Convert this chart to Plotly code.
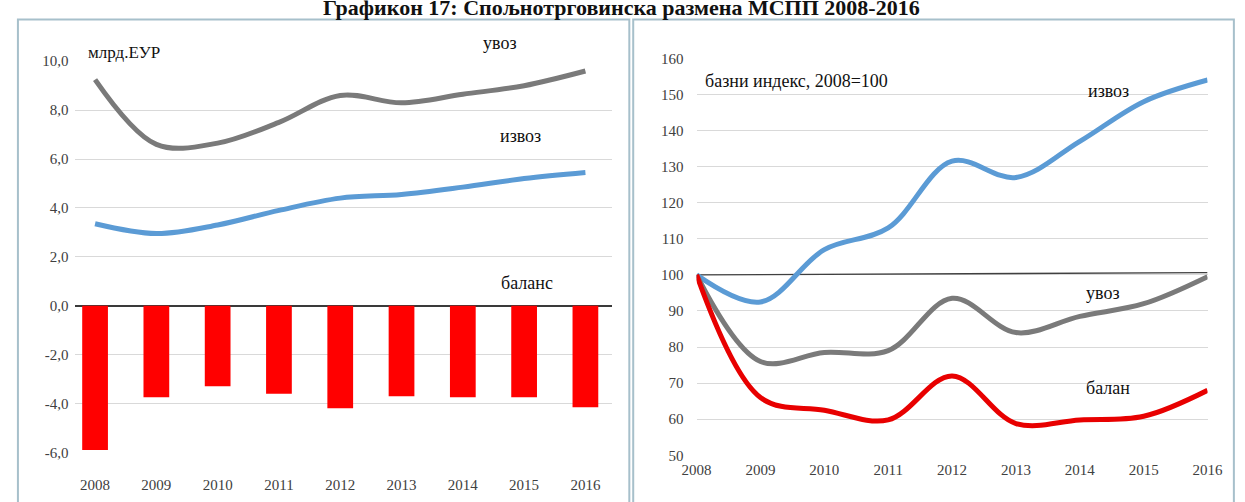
import plotly.graph_objects as go

# ---------------- data ----------------
years = [2008, 2009, 2010, 2011, 2012, 2013, 2014, 2015, 2016]
year_labels = [str(y) for y in years]

# left panel: billions EUR
import_bn = [9.25, 6.6, 6.65, 7.5, 8.6, 8.3, 8.65, 9.0, 9.6]
export_bn = [3.35, 2.95, 3.3, 3.9, 4.4, 4.55, 4.85, 5.2, 5.45]
balance_bn = [-5.9, -3.75, -3.3, -3.6, -4.2, -3.7, -3.75, -3.75, -4.15]
left_ticks = [-6, -4, -2, 0, 2, 4, 6, 8, 10]
left_tick_labels = ["-6,0", "-4,0", "-2,0", "0,0", "2,0", "4,0", "6,0", "8,0", "10,0"]

# right panel: base index 2008=100
export_idx = [100, 92.5, 107, 113, 131.5, 127, 137, 148, 154]
import_idx = [100, 76, 78.5, 79, 93.5, 84, 88.5, 92, 99.5]
balance_idx = [100, 66, 62.5, 59.8, 72, 58.8, 59.8, 60.8, 68]
base_years = [2008, 2016]
base_idx = [100, 100.6]
right_ticks = [50, 60, 70, 80, 90, 100, 110, 120, 130, 140, 150, 160]

W, H = 1245, 502
def px(x):
    return x / W
def py(y):
    return 1 - y / H

FONT = "Liberation Serif"
GRAY_TXT = "#404040"
GRID = "#d9d9d9"
C_IMP = "#7a7a7a"
C_EXP = "#5b9bd5"
C_RED = "#ff0000"

fig = go.Figure()

# ---- left panel ----
fig.add_trace(go.Bar(x=years, y=balance_bn, marker=dict(color=C_RED, line=dict(width=0)),
                     width=0.42, xaxis="x", yaxis="y", showlegend=False))
fig.add_trace(go.Scatter(x=years, y=import_bn, mode="lines",
                         line=dict(color=C_IMP, width=5, shape="spline", smoothing=1.0),
                         xaxis="x", yaxis="y", showlegend=False))
fig.add_trace(go.Scatter(x=years, y=export_bn, mode="lines",
                         line=dict(color=C_EXP, width=5, shape="spline", smoothing=1.0),
                         xaxis="x", yaxis="y", showlegend=False))

# ---- right panel ----
fig.add_trace(go.Scatter(x=base_years, y=base_idx, mode="lines",
                         line=dict(color="#404040", width=1.3),
                         xaxis="x2", yaxis="y2", showlegend=False))
fig.add_trace(go.Scatter(x=years, y=export_idx, mode="lines",
                         line=dict(color=C_EXP, width=5, shape="spline", smoothing=1.0),
                         xaxis="x2", yaxis="y2", showlegend=False))
fig.add_trace(go.Scatter(x=years, y=import_idx, mode="lines",
                         line=dict(color=C_IMP, width=5, shape="spline", smoothing=1.0),
                         xaxis="x2", yaxis="y2", showlegend=False))
fig.add_trace(go.Scatter(x=years, y=balance_idx, mode="lines",
                         line=dict(color="#e80000", width=5, shape="spline", smoothing=1.0),
                         xaxis="x2", yaxis="y2", showlegend=False))

tickfont = dict(family=FONT, size=15, color=GRAY_TXT)

fig.update_layout(
    width=W, height=H,
    margin=dict(l=0, r=0, t=0, b=0),
    paper_bgcolor="white", plot_bgcolor="rgba(0,0,0,0)",
    font=dict(family=FONT),
    bargap=0.5,
    xaxis=dict(domain=[px(62), px(612)], range=[2007.68, 2016.43],
               tickvals=years, ticktext=year_labels, tickfont=tickfont,
               showgrid=False, zeroline=False, showline=False, ticks="",
               anchor="y", ticklabelstandoff=22, fixedrange=True),
    yaxis=dict(domain=[py(459), py(55)], range=[-6, 10],
               tickvals=left_ticks, ticktext=left_tick_labels, tickfont=tickfont,
               showgrid=True, gridcolor=GRID, gridwidth=1,
               zeroline=True, zerolinecolor="#3a3a3a", zerolinewidth=1.5,
               showline=False, ticks="", anchor="x", ticklabelstandoff=6),
    xaxis2=dict(domain=[px(699), px(1223)], range=[2008, 2016],
                tickvals=years, ticktext=year_labels, tickfont=tickfont,
                showgrid=False, zeroline=False, showline=False, ticks="",
                anchor="y2", ticklabelstandoff=4),
    yaxis2=dict(domain=[py(462), py(52)], range=[50, 160],
                tickvals=right_ticks, tickfont=tickfont,
                showgrid=True, gridcolor=GRID, gridwidth=1,
                zeroline=False, showline=False, ticks="", anchor="x2",
                ticklabelstandoff=12),
)

# panel borders
for x0, x1 in [(3, 630), (634, 1250)]:
    fig.add_shape(type="rect", xref="paper", yref="paper",
                  x0=px(x0), x1=px(x1), y0=py(520), y1=py(12),
                  line=dict(color="#a7c0cb", width=2), fillcolor="rgba(0,0,0,0)", layer="below")

def label(text, x, y, size=18, anchor="left"):
    fig.add_annotation(text=text, xref="paper", yref="paper", x=px(x), y=py(y),
                       xanchor=anchor, yanchor="middle", showarrow=False,
                       font=dict(family=FONT, size=size, color="#111111"))

# title (its top is cut by the page edge, as in the source)
fig.add_annotation(text="<b>Графикон 17: Спољнотрговинска размена МСПП 2008-2016</b>",
                   xref="paper", yref="paper", x=px(622), y=py(14),
                   xanchor="center", yanchor="bottom", showarrow=False,
                   font=dict(family=FONT, size=22, color="#111111"))

label("млрд.ЕУР", 73, 46, size=17)
label("увоз", 478, 36)
label("извоз", 495, 132)
label("баланс", 496, 284)
label("базни индекс, 2008=100", 706, 75)
label("извоз", 1098, 86)
label("увоз", 1096, 294)
label("балан", 1096, 393)

post = (
    "var gd=document.getElementById('{plot_id}');"
    "gd.parentElement.style.cssText='width:1245px;height:502px;overflow:hidden;margin:0;padding:0;';"
    "document.body.style.margin='0';document.body.style.padding='0';"
    "document.body.style.overflow='hidden';"
    "document.documentElement.style.overflow='hidden';"
)
fig.write_html("out.html", config={"displayModeBar": False}, post_script=post)
